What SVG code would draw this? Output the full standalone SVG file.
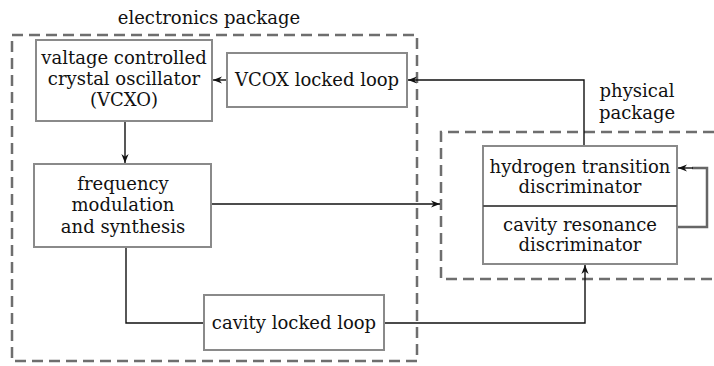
<svg xmlns="http://www.w3.org/2000/svg" width="714" height="366" viewBox="0 0 714 366">
<defs>
<marker id="ah" viewBox="0 0 10 10" refX="10" refY="5" markerWidth="9" markerHeight="9" markerUnits="userSpaceOnUse" orient="auto">
<path d="M0,1 L10,5 L0,9 L3,5 Z" fill="#111"/>
</marker>
<style>
.pkg{fill:none;stroke:#6e6e6e;stroke-width:2.5;stroke-dasharray:11 6}
.box{fill:#fff;stroke:#8a8a8a;stroke-width:2}
.t{font-family:"DejaVu Serif","Liberation Serif",serif;font-size:18px;fill:#111;text-anchor:middle}
.c{fill:none;stroke:#111;stroke-width:1.4}
</style>
</defs>
<rect width="714" height="366" fill="#fff"/>
<g id="electronics-package">
<rect class="pkg" x="12" y="35" width="405" height="326"/>
<text class="t" x="209" y="24">electronics package</text>
</g>
<g id="physical-package">
<path class="pkg" d="M714,132 H441 V279 H714"/>
<text class="t" x="637" y="97">physical</text>
<text class="t" x="637" y="119">package</text>
</g>
<g id="connectors">
<line class="c" x1="227" y1="80" x2="213" y2="80" marker-end="url(#ah)"/>
<line class="c" x1="125" y1="121" x2="125" y2="163" marker-end="url(#ah)"/>
<line class="c" x1="211" y1="204" x2="440" y2="204" marker-end="url(#ah)"/>
<polyline class="c" points="126,247 126,323 204,323"/>
<polyline class="c" points="384,323 585,323 585,265" marker-end="url(#ah)"/>
<polyline class="c" points="584,146 584,80 408,80" marker-end="url(#ah)"/>
<polyline fill="none" stroke="#666" stroke-width="2.5" points="677,227 707,227 707,168 692,168"/>
<line class="c" x1="693" y1="168" x2="678" y2="168" marker-end="url(#ah)"/>
</g>
<g id="vcxo">
<rect class="box" x="36" y="40" width="176" height="81"/>
<text class="t" x="124" y="64">valtage controlled</text>
<text class="t" x="124" y="85">crystal oscillator</text>
<text class="t" x="124" y="106">(VCXO)</text>
</g>
<g id="vcox-locked-loop">
<rect class="box" x="227" y="53" width="180" height="54"/>
<text class="t" x="317" y="86">VCOX locked loop</text>
</g>
<g id="frequency-modulation">
<rect class="box" x="34" y="164" width="177" height="83"/>
<text class="t" x="123" y="190">frequency</text>
<text class="t" x="123" y="211">modulation</text>
<text class="t" x="123" y="233">and synthesis</text>
</g>
<g id="cavity-locked-loop">
<rect class="box" x="204" y="295" width="180" height="55"/>
<text class="t" x="294" y="329">cavity locked loop</text>
</g>
<g id="discriminators">
<rect class="box" x="483" y="146" width="194" height="118"/>
<line x1="483" y1="206" x2="677" y2="206" stroke="#555" stroke-width="2"/>
<text class="t" x="580" y="173">hydrogen transition</text>
<text class="t" x="580" y="193">discriminator</text>
<text class="t" x="580" y="231">cavity resonance</text>
<text class="t" x="580" y="251">discriminator</text>
</g>
</svg>
